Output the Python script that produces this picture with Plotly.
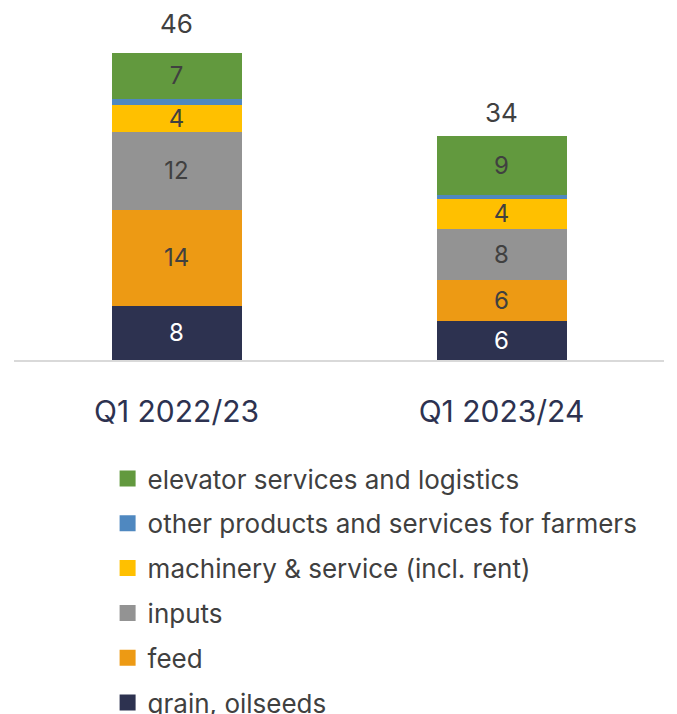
import plotly.graph_objects as go

CATEGORIES = ["Q1 2022/23", "Q1 2023/24"]

SERIES = [
 "grain, oilseeds",
 "feed",
 "inputs",
 "machinery & service (incl. rent)",
 "other products and services for farmers",
 "elevator services and logistics",
]

GRAIN = [8.14, 5.85]
FEED = [14.35, 6.19]
INPUTS = [11.74, 7.65]
MACHINERY = [4.0, 4.4]
OTHER = [0.9, 0.6]
ELEVATOR = [6.94, 8.9]

COLORS = ["#2d3250", "#ed9a14", "#939393", "#ffc000", "#4f88c0", "#62993e"]
LABEL_COLORS = ["#ffffff", "#404040", "#404040", "#404040", "#404040", "#404040"]

FONT = "Inter, Roboto, sans-serif"

values = [GRAIN, FEED, INPUTS, MACHINERY, OTHER, ELEVATOR]

fig = go.Figure()
for i, (name, vals) in enumerate(zip(SERIES, values)):
 show_text = name != SERIES[4]
 fig.add_trace(
  go.Bar(
   x=CATEGORIES,
   y=vals,
   name=name,
   showlegend=False,
   marker=dict(color=COLORS[i], line=dict(width=0)),
   text=[f"{v:.0f}" for v in vals] if show_text else None,
   textposition="inside" if show_text else "none",
   insidetextanchor="middle",
   constraintext="none",
   textangle=0,
   textfont=dict(family=FONT, size=24, color=LABEL_COLORS[i]),
   width=0.4,
   hoverinfo="skip",
  )
 )

# legend entries (square swatches), top to bottom = elevator ... grain
for i, name in enumerate(SERIES):
 fig.add_trace(
  go.Scatter(
   x=[None],
   y=[None],
   mode="markers",
   name=name,
   legendgroup=name,
   legendrank=len(SERIES) - i,
   marker=dict(symbol="square", size=17, color=COLORS[i]),
  )
 )

totals = [sum(v[j] for v in values) for j in range(len(CATEGORIES))]
for cat, tot, shift in zip(CATEGORIES, totals, [12, 6]):
 fig.add_annotation(
  x=cat,
  y=tot,
  text=f"{tot:.0f}",
  showarrow=False,
  yanchor="bottom",
  yshift=shift,
  font=dict(family=FONT, size=26, color="#404040"),
 )

# page body has an 8px offset, so margins are shifted to compensate
fig.update_layout(
 barmode="stack",
 width=677,
 height=714,
 template="plotly_white",
 plot_bgcolor="white",
 paper_bgcolor="white",
 margin=dict(l=6, r=21, t=5, b=362, autoexpand=False),
 bargap=0.6,
 font=dict(family=FONT, color="#404040"),
 xaxis=dict(
  showgrid=False,
  showline=True,
  linecolor="#d9d9d9",
  linewidth=1.5,
  ticks="",
  tickfont=dict(family=FONT, size=30, color="#2d3250"),
  ticklabelstandoff=24,
 ),
 yaxis=dict(range=[0, 52], visible=False, showgrid=False, zeroline=False),
 legend=dict(
  tracegroupgap=8,
  itemsizing="trace",
  x=0.144,
  xanchor="left",
  y=-0.274,
  yanchor="top",
  font=dict(family=FONT, size=26, color="#404040"),
  itemwidth=30,
 ),
)

fig.write_html("out.html")
